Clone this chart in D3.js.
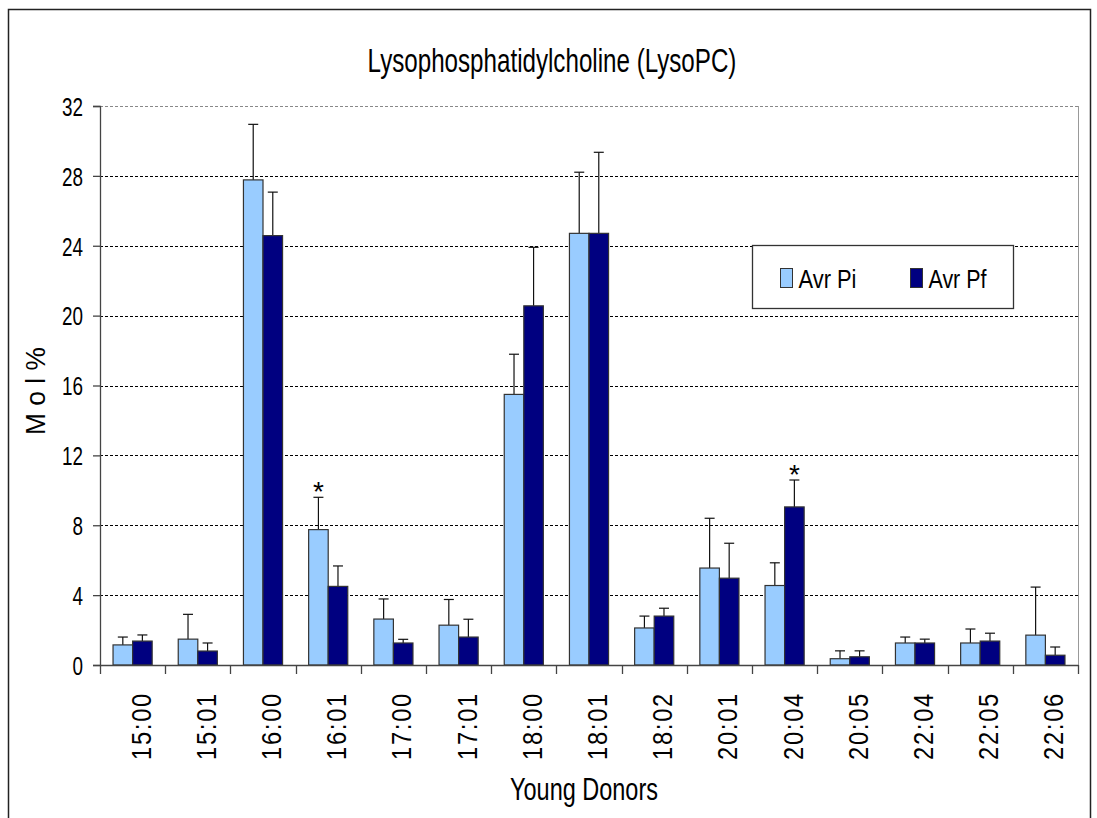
<!DOCTYPE html>
<html>
<head>
<meta charset="utf-8">
<script src="https://cdn.jsdelivr.net/npm/d3@7"></script>
<style>
  html, body { margin: 0; padding: 0; background: #fff; }
  svg { display: block; }
  text { font-family: "Liberation Sans", Arial, sans-serif; }
</style>
</head>
<body>
<svg id="chart" width="1097" height="818"></svg>
<script>
// ---- data ----
const categories = ["15:00","15:01","16:00","16:01","17:00","17:01","18:00","18:01","18:02","20:01","20:04","20:05","22:04","22:05","22:06"];
const seriesNames = ["Avr Pi", "Avr Pf"];
const avrPi    = [1.15, 1.48, 27.77, 7.75, 2.63, 2.28, 15.49, 24.71, 2.12, 5.55, 4.55, 0.36, 1.26, 1.26, 1.71];
const avrPiErr = [0.45, 1.42, 3.18, 1.85, 1.15, 1.47, 2.30, 3.50, 0.68, 2.85, 1.30, 0.45, 0.34, 0.80, 2.75];
const avrPf    = [1.37, 0.80, 24.58, 4.50, 1.26, 1.60, 20.56, 24.71, 2.80, 4.97, 9.05, 0.47, 1.26, 1.37, 0.56];
const avrPfErr = [0.35, 0.46, 2.49, 1.17, 0.21, 1.02, 3.35, 4.64, 0.45, 2.00, 1.54, 0.34, 0.22, 0.45, 0.47];
const yTicks = [0, 4, 8, 12, 16, 20, 24, 28, 32];
const significance = [{cat: "16:01", series: 0}, {cat: "20:04", series: 1}];
const titleText = "Lysophosphatidylcholine (LysoPC)";
const xTitle = "Young Donors";
const yTitle = "M o l %";
const colors = ["#99CCFF", "#000080"];

(function () {
// ---- layout ----
const svg = d3.select("#chart");
const pLeft = 100, pRight = 1078, pTop = 106, pBottom = 665;

// squeeze a text horizontally (in its own frame) to a target width
function squeeze(sel, base, target) {
  sel.each(function(d, i) {
    const t = d3.select(this);
    const w = this.getComputedTextLength();
    const tw = typeof target === "function" ? target(d, i) : target;
    const b = typeof base === "function" ? base(d, i) : base;
    t.attr("transform", `${b} scale(${tw / w},1)`);
  });
}

// outer frame
svg.append("path")
  .attr("d", `M8.5,818 L8.5,9.5 L1090.5,9.5 L1090.5,818`)
  .attr("fill", "none").attr("stroke", "#222").attr("stroke-width", 1.5);

const x0 = d3.scaleBand().domain(categories).range([pLeft, pRight]).padding(0);
const x1 = d3.scaleBand().domain([0, 1]).range([0, x0.bandwidth() * 0.6]).padding(0);
const y = d3.scaleLinear().domain([0, 32]).range([pBottom, pTop]);

// gridlines
svg.append("g").selectAll("line").data(yTicks.filter(d => d > 0)).join("line")
  .attr("x1", pLeft).attr("x2", pRight)
  .attr("y1", d => Math.round(y(d)) + 0.5).attr("y2", d => Math.round(y(d)) + 0.5)
  .attr("stroke", d => d === 32 ? "#888" : "#000")
  .attr("stroke-width", 1)
  .attr("stroke-dasharray", "3,2");

// plot-area right border
svg.append("line").attr("x1", pRight + 0.5).attr("x2", pRight + 0.5)
  .attr("y1", pTop).attr("y2", pBottom).attr("stroke", "#999").attr("stroke-width", 1);

// bars
const rows = categories.map((c, i) => ({
  cat: c,
  vals: [
    {s: 0, v: avrPi[i], e: avrPiErr[i]},
    {s: 1, v: avrPf[i], e: avrPfErr[i]}
  ]
}));

const groups = svg.append("g").selectAll("g").data(rows).join("g")
  .attr("transform", d => `translate(${x0(d.cat) + x0.bandwidth() * 0.2},0)`);

// error bars (drawn behind bars)
groups.selectAll("g.err").data(d => d.vals).join("g").attr("class", "err")
  .each(function(d) {
    const g = d3.select(this);
    const cx = x1(d.s) + x1.bandwidth() / 2;
    g.append("line").attr("x1", cx).attr("x2", cx)
      .attr("y1", y(d.v)).attr("y2", y(d.v + d.e))
      .attr("stroke", "#111").attr("stroke-width", 1.2);
    g.append("line").attr("x1", cx - 5).attr("x2", cx + 5)
      .attr("y1", y(d.v + d.e)).attr("y2", y(d.v + d.e))
      .attr("stroke", "#111").attr("stroke-width", 1.2);
  });

groups.selectAll("rect").data(d => d.vals).join("rect")
  .attr("x", d => x1(d.s))
  .attr("width", x1.bandwidth())
  .attr("y", d => y(d.v))
  .attr("height", d => y(0) - y(d.v))
  .attr("fill", d => colors[d.s])
  .attr("stroke", "#333")
  .attr("stroke-width", 1.2);

// significance stars
svg.append("g").selectAll("text").data(significance).join("text")
  .attr("x", d => x0(d.cat) + x0.bandwidth() * 0.2 + x1(d.series) + x1.bandwidth() / 2)
  .attr("y", d => {
    const i = categories.indexOf(d.cat);
    const v = d.series === 0 ? avrPi[i] + avrPiErr[i] : avrPf[i] + avrPfErr[i];
    return y(v) + 4;
  })
  .attr("text-anchor", "middle")
  .attr("font-size", 28)
  .attr("fill", "#000")
  .text("*");

// y axis
const yAxis = svg.append("g").attr("transform", `translate(${pLeft},0)`)
  .call(d3.axisLeft(y).tickValues(yTicks).tickSize(7).tickPadding(9).tickFormat(d3.format("d")));
yAxis.attr("font-family", null).attr("font-size", null);
yAxis.select(".domain").attr("stroke", "#444").attr("stroke-width", 1.3);
yAxis.selectAll(".tick line").attr("stroke", "#444").attr("stroke-width", 1.3);
yAxis.selectAll(".tick text").attr("font-size", 26).attr("fill", "#000")
  .attr("x", 0).attr("dy", "0.36em")
  .call(squeeze, "translate(-17,0)", d => String(d).length * 10.5);

// x axis
const xAxis = svg.append("g").attr("transform", `translate(0,${pBottom})`)
  .call(d3.axisBottom(x0).tickSize(0).tickFormat(""));
xAxis.attr("font-family", null).attr("font-size", null);
xAxis.select(".domain").attr("stroke", "#444").attr("stroke-width", 1.3);
// category boundary ticks
const bounds = categories.map(c => x0(c)).concat([pRight]);
xAxis.append("g").selectAll("line").data(bounds).join("line")
  .attr("x1", d => Math.round(d) + 0.5).attr("x2", d => Math.round(d) + 0.5)
  .attr("y1", 0).attr("y2", 9)
  .attr("stroke", "#444").attr("stroke-width", 1.3);
// rotated category labels
xAxis.append("g").selectAll("text").data(categories).join("text")
  .attr("text-anchor", "end")
  .attr("font-size", 27)
  .attr("letter-spacing", "2px")
  .attr("fill", "#000")
  .text(d => d)
  .call(squeeze, d => `translate(${x0(d) + x0.bandwidth() / 2 + 18},${692 - pBottom}) rotate(-90)`, 68);

// titles
svg.append("text")
  .attr("text-anchor", "middle")
  .attr("font-size", 33).attr("fill", "#000")
  .text(titleText)
  .call(squeeze, "translate(552,72)", 369);

svg.append("text")
  .attr("text-anchor", "middle")
  .attr("font-size", 32).attr("fill", "#000")
  .text(xTitle)
  .call(squeeze, "translate(584,800)", 148);

svg.append("text")
  .attr("text-anchor", "middle")
  .attr("font-size", 28).attr("fill", "#000")
  .text(yTitle)
  .call(squeeze, "translate(45,391) rotate(-90)", 88);

// legend
const lg = svg.append("g").attr("transform", "translate(752,245)");
lg.append("rect").attr("x", 0.5).attr("y", 0.5).attr("width", 261).attr("height", 63)
  .attr("fill", "#fff").attr("stroke", "#333").attr("stroke-width", 1.3);
const items = lg.selectAll("g").data(seriesNames).join("g")
  .attr("transform", (d, i) => `translate(${i === 0 ? 28.5 : 158.5},23.5)`);
items.append("rect").attr("width", 12).attr("height", 19)
  .attr("fill", (d, i) => colors[i]).attr("stroke", "#333").attr("stroke-width", 1);
items.append("text")
  .attr("font-size", 25).attr("fill", "#000")
  .text(d => d)
  .call(squeeze, "translate(18,19)", 58);
})();
</script>
</body>
</html>
